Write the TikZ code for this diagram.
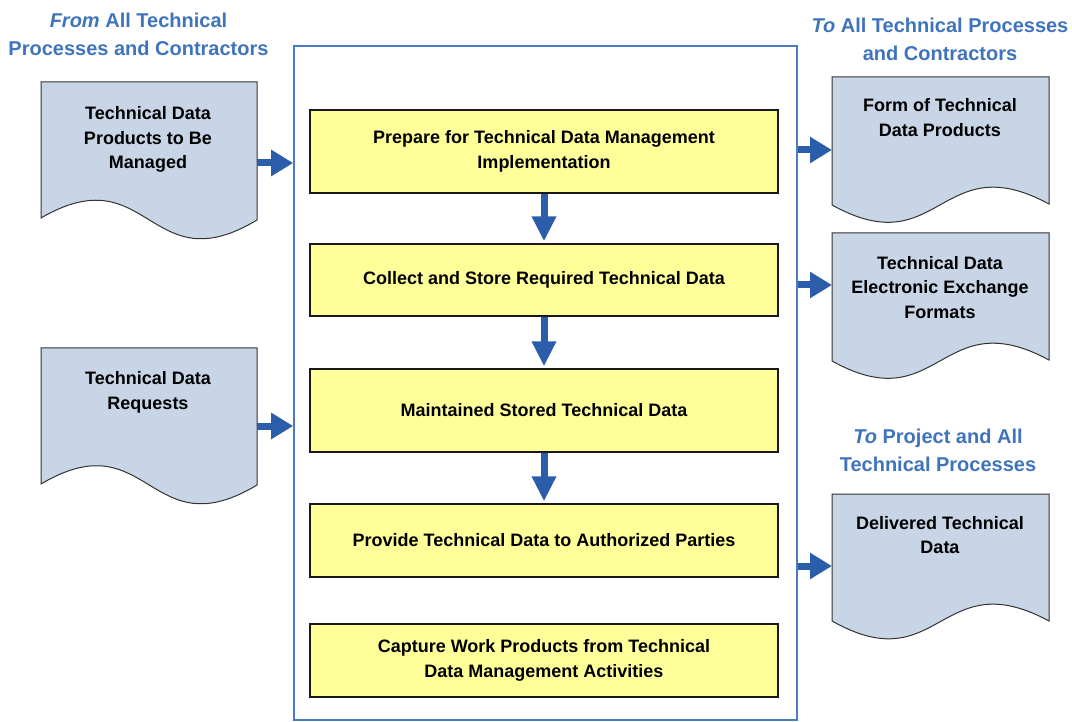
\documentclass[tikz,border=0pt]{standalone}
\usepackage{fontspec}
\setmainfont{Liberation Sans}
\usetikzlibrary{arrows.meta}
\definecolor{docfill}{HTML}{C8D5E6}
\definecolor{boxfill}{HTML}{FFFF99}
\definecolor{arrowblue}{HTML}{2B5DAA}
\definecolor{titleblue}{HTML}{3F74BC}
\definecolor{frameblue}{HTML}{4A7CC4}
\begin{document}
\begin{tikzpicture}[x=1pt,y=-1pt,
  stepbox/.style={draw=black!90, line width=1.3pt, fill=boxfill, minimum width=468pt, inner sep=0pt, align=center, font=\bfseries\fontsize{18}{24.5}\selectfont},
  doctext/.style={align=center, font=\bfseries\fontsize{18}{24.5}\selectfont, inner sep=0pt},
  titletext/.style={align=center, text=titleblue, font=\bfseries\fontsize{20}{28}\selectfont, inner sep=0pt},
  docshape/.style={draw=black!80, line width=1pt, fill=docfill},
  bigarrow/.style={draw=arrowblue, line width=7pt, -{Triangle[width=25pt,length=22pt]}},
  downarrow/.style={draw=arrowblue, line width=7pt, -{Triangle[width=23pt,length=25pt]}}
]
\useasboundingbox (0,0) rectangle (1072,722);

% frame
\node[draw=frameblue, line width=1.6pt, minimum width=503pt, minimum height=674pt, inner sep=0pt] (frame) at (545.5,383) {};

% titles
\node[titletext] (tl) at (138.5,34) {\textit{From} All Technical\\Processes and Contractors};
\node[titletext] (tr) at (940,39) {\textit{To} All Technical Processes\\and Contractors};
\node[titletext] (tr2) at (938,450.5) {\textit{To} Project and All\\Technical Processes};

% left documents
\draw[docshape] (41,82) -- (257,82) -- (257,220) .. controls (149,285) and (149,155) .. (41,218) -- cycle;
\node[doctext] (d1) at (148,139.5) {Technical Data\\Products to Be\\Managed};
\draw[docshape] (41,348) -- (257,348) -- (257,485) .. controls (149,550) and (149,420) .. (41,484) -- cycle;
\node[doctext] (d2) at (148,392.5) {Technical Data\\Requests};

% right documents
\draw[docshape] (832,77) -- (1049,77) -- (1049,204) .. controls (940,145) and (940,265) .. (832,205) -- cycle;
\node[doctext] (d3) at (940,117.5) {Form of Technical\\Data Products};
\draw[docshape] (832,233) -- (1049,233) -- (1049,360) .. controls (940,301) and (940,421) .. (832,361) -- cycle;
\node[doctext] (d4) at (940,287.5) {Technical Data\\Electronic Exchange\\Formats};
\draw[docshape] (832,494) -- (1049,494) -- (1049,621) .. controls (940,562) and (940,682) .. (832,621) -- cycle;
\node[doctext] (d5) at (940,535) {Delivered Technical\\Data};

% boxes
\node[stepbox, minimum height=83pt] (b1) at (544,151.5) {Prepare for Technical Data Management\\Implementation};
\node[stepbox, minimum height=72pt] (b2) at (544,280) {Collect and Store Required Technical Data};
\node[stepbox, minimum height=83pt] (b3) at (544,410.5) {Maintained Stored Technical Data};
\node[stepbox, minimum height=73pt] (b4) at (544,540.5) {Provide Technical Data to Authorized Parties};
\node[stepbox, minimum height=73pt] (b5) at (544,660.5) {Capture Work Products from Technical\\Data Management Activities};

% arrow anchor coordinates
\coordinate (d1e) at (257,163);
\coordinate (d2e) at (257,426);
\coordinate (d3w) at (832,150);
\coordinate (d4w) at (832,285);
\coordinate (d5w) at (832,566);

% arrows
\draw[bigarrow] (d1e) -- (d1e -| frame.west);
\draw[bigarrow] (d2e) -- (d2e -| frame.west);
\draw[bigarrow] (d3w -| frame.east) -- (d3w);
\draw[bigarrow] (d4w -| frame.east) -- (d4w);
\draw[bigarrow] (d5w -| frame.east) -- (d5w);
\draw[downarrow] (b1.south) -- ([yshift=2pt]b2.north);
\draw[downarrow] (b2.south) -- ([yshift=2pt]b3.north);
\draw[downarrow] (b3.south) -- ([yshift=2pt]b4.north);
\end{tikzpicture}
\end{document}
